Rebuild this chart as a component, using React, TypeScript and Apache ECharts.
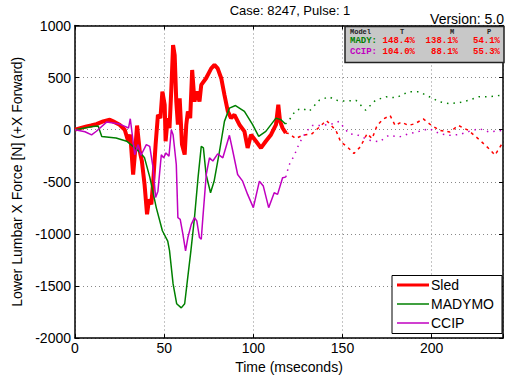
import React, { useEffect, useRef } from 'react';
import * as echarts from 'echarts';

// ---- Data ----
const sledTime = [0, 3, 6.5, 9, 12, 15.8, 19.5, 21.4, 25, 27.9, 29.8, 31, 32.6, 33.5, 34.8, 36.3, 37.5, 39, 40.4, 41.5, 42.8, 44, 45.2, 46.5, 47.9, 49, 50.3, 50.8, 52, 53, 54, 55, 55.9, 56.8, 57.7, 58.7, 60, 61.5, 62.4, 63.3, 64.6, 65.7, 67, 68.3, 69.8, 70.8, 73.5, 76.4, 78.2, 80, 82, 83.8, 85.7, 87.5, 89.4, 92.2, 95, 96.8, 98.7, 101.5, 104.3, 107, 109.9, 112.7, 114, 115, 116.4, 118.2];
const sledForce = [0, 15, 32, 40, 54, 80, 96, 80, 48, 0, -111, -48, -430, -250, 40, -207, -300, -525, -812, -669, -716, -462, -143, 143, 111, 366, 239, -111, 111, 16, 382, 812, 716, 270, 48, 302, -143, -239, 48, 175, 111, 573, 270, 366, 270, 430, 494, 589, 621, 589, 494, 334, 175, 111, 143, 48, -16, -175, -48, -111, -175, -111, -48, 48, 239, 80, 16, -32];
const sledTailTime = [118.2, 120, 123.8, 127.6, 133, 137, 141, 143.6, 146.3, 149, 152.7, 156.4, 160, 163.8, 166.6, 169.4, 173, 176.7, 179.5, 183, 187, 190.6, 195.3, 199.9, 204.6, 210.2, 215, 220.5, 226, 232, 235.5, 239.5];
const sledTailForce = [-32, -38, -85, -54, -38, 25, 89, 41, -6, -117, -165, -228, -165, -38, -85, 41, 104, 136, 41, 73, 41, 57, 104, 41, -6, -22, 41, -6, -85, -180, -244, -133];

const madyTime = [0, 10, 13, 15, 23, 29, 36, 39, 42, 45.6, 49, 52, 53, 55, 57, 59.6, 61.5, 63, 65, 67, 69, 70.8, 72, 73.5, 76, 78, 81, 83.8, 86.6, 90, 95, 99.6, 103, 107, 112.7, 115.5, 118];
const madyForce = [0, 30, 35, -65, -80, -110, -210, -270, -460, -750, -970, -1070, -1160, -1480, -1670, -1710, -1670, -1450, -1160, -845, -460, -160, -175, -430, -605, -495, -210, 80, 207, 232, 175, 48, -64, -16, 111, 95, 54];
const madyTailTime = [118, 120, 123.8, 127.6, 131.3, 137, 142.5, 146.2, 151.8, 157.5, 163, 168.5, 174.5, 180, 187, 193, 198.7, 204.5, 210, 215.5, 221, 226.5, 232, 239.5];
const madyTailForce = [54, 90, 187, 203, 177, 283, 316, 283, 274, 283, 187, 283, 316, 306, 364, 364, 316, 267, 250, 260, 283, 316, 316, 332];

const ccipTime = [0, 5.6, 9.3, 12, 17.7, 21.4, 25, 28, 30, 31, 32, 33.5, 35.4, 37, 40, 41.9, 43.8, 45.2, 46.5, 48.4, 49.7, 51, 52.7, 54, 55, 56.8, 57.7, 59, 60.5, 62, 63.3, 65.2, 67, 68.3, 69.8, 70.8, 71.7, 73.6, 75.4, 77.3, 80, 82.9, 86.6, 88.5, 91.2, 94, 96.8, 100, 103.4, 105.6, 108.6, 111.7, 113.6, 116.4, 118.2];
const ccipForce = [0, -20, -50, -15, 73, 64, 54, 32, 16, 105, -32, -240, -143, -245, -143, -160, -366, -650, -590, -240, -270, -223, -255, 0, -48, -334, -844, -860, -1003, -1162, -1035, -908, -844, -876, -1035, -1050, -844, -430, -270, -300, -232, -270, -54, -207, -430, -494, -621, -748, -494, -541, -748, -605, -621, -462, -455];
const ccipTailTime = [118.2, 120, 123, 125.7, 129.5, 133, 138.7, 144.3, 148, 153.6, 159, 165, 170.5, 176, 181.8, 187.4, 193, 198.7, 204.5, 210, 215.5, 221, 226.7, 232.2, 239.6];
const ccipTailForce = [-455, -340, -245, -133, -22, 41, 41, 57, 79, -38, -54, -101, -117, -54, -70, -38, -16, 10, -38, -54, -47, -16, 10, -22, -6];

const xTicks = [0, 50, 100, 150, 200];
const legendNames = ['Sled', 'MADYMO', 'CCIP'];
const tableHeader = ['Model', 'T', 'M', 'P'];
const madyScores = ['148.4%', '138.1%', '54.1%'];
const ccipScores = ['104.0%', '88.1%', '55.3%'];

const RED = '#ff0000';
const GREEN = '#008000';
const MAGENTA = '#c000c0';
const FONT = 'Liberation Sans, Arial, sans-serif';
const MONO = 'Liberation Mono, Courier New, monospace';

const zip = (t: number[], v: number[]) => t.map((x, i) => [x, v[i]]);

export default function App() {
  const ref = useRef<HTMLDivElement>(null);
  useEffect(() => {
    if (!ref.current) return;
    const chart = echarts.init(ref.current, undefined, { renderer: 'svg' });
    const axisLine = { show: true, onZero: false, lineStyle: { color: '#000', width: 1.5 } };
    const tick = { show: true, inside: true, length: 4, lineStyle: { color: '#000', width: 1 } };
    const scoreCols = [415, 458, 500];
    const tableTexts: any[] = [];
    const headerX = [350, 400, 450, 487];
    tableHeader.forEach((h, i) => {
      tableTexts.push({
        type: 'text', x: headerX[i], y: 31.5,
        style: { text: h, font: `bold 7px ${MONO}`, fill: '#222', verticalAlign: 'middle', align: 'left' },
      });
    });
    tableTexts.push({ type: 'text', x: 350, y: 41, style: { text: 'MADY:', font: `bold 9px ${MONO}`, fill: GREEN, verticalAlign: 'middle' } });
    tableTexts.push({ type: 'text', x: 350, y: 52, style: { text: 'CCIP:', font: `bold 9px ${MONO}`, fill: MAGENTA, verticalAlign: 'middle' } });
    madyScores.forEach((s, i) => tableTexts.push({ type: 'text', x: scoreCols[i], y: 41, style: { text: s, font: `bold 9px ${MONO}`, fill: RED, align: 'right', verticalAlign: 'middle' } }));
    ccipScores.forEach((s, i) => tableTexts.push({ type: 'text', x: scoreCols[i], y: 52, style: { text: s, font: `bold 9px ${MONO}`, fill: RED, align: 'right', verticalAlign: 'middle' } }));

    const legendColors = [RED, GREEN, MAGENTA];
    const legendWidths = [3, 1.5, 1.5];
    const legendItems: any[] = [
      { type: 'rect', shape: { x: 392, y: 275.5, width: 110, height: 58 }, style: { fill: '#fff', stroke: '#000', lineWidth: 1 }, z: 20 },
    ];
    legendNames.forEach((n, i) => {
      const y = 285 + i * 19;
      legendItems.push({ type: 'line', shape: { x1: 397, y1: y, x2: 429, y2: y }, style: { stroke: legendColors[i], lineWidth: legendWidths[i] }, z: 21 });
      legendItems.push({ type: 'text', x: 431, y, style: { text: n, font: `14px ${FONT}`, fill: '#000', verticalAlign: 'middle' }, z: 21 });
    });

    chart.setOption({
      animation: false,
      backgroundColor: '#fff',
      grid: { left: 75, right: 1, top: 25.5, bottom: 38.5, show: false },
      xAxis: [
        {
          type: 'value', position: 'bottom', min: 0, max: 240, interval: 50,
          axisLine, axisTick: tick,
          axisLabel: { fontSize: 14, color: '#000', fontFamily: FONT, margin: 3, formatter: (v: number) => (xTicks.includes(v) ? String(v) : '') },
          splitLine: { show: true, lineStyle: { color: '#888', type: [1, 3], width: 1 } },
          name: 'Time (mseconds)', nameLocation: 'middle', nameGap: 17,
          nameTextStyle: { fontSize: 14, color: '#000', fontFamily: FONT },
        },
        {
          type: 'value', position: 'top', min: 0, max: 240, interval: 50,
          axisLine, axisTick: tick, axisLabel: { show: false }, splitLine: { show: false },
        },
      ],
      yAxis: [
        {
          type: 'value', position: 'left', min: -2000, max: 1000, interval: 500,
          axisLine, axisTick: tick,
          axisLabel: { fontSize: 14, color: '#000', fontFamily: FONT, margin: 4, formatter: (v: number) => String(v) },
          splitLine: { show: true, lineStyle: { color: '#888', type: [1, 3], width: 1 } },
          name: 'Lower Lumbar X Force [N] (+X Forward)', nameLocation: 'middle', nameGap: 43,
          nameTextStyle: { fontSize: 14, color: '#000', fontFamily: FONT },
        },
        {
          type: 'value', position: 'right', min: -2000, max: 1000, interval: 500,
          axisLine, axisTick: tick, axisLabel: { show: false }, splitLine: { show: false },
        },
      ],
      series: [
        { name: 'Sled', type: 'line', symbol: 'none', data: zip(sledTime, sledForce), lineStyle: { color: RED, width: 4 }, z: 2 },
        { name: 'Sled tail', type: 'line', symbol: 'none', data: zip(sledTailTime, sledTailForce), lineStyle: { color: RED, width: 1.5, type: [3, 4] }, z: 2 },
        { name: 'MADYMO', type: 'line', symbol: 'none', data: zip(madyTime, madyForce), lineStyle: { color: GREEN, width: 1.5 }, z: 3 },
        { name: 'MADYMO tail', type: 'line', symbol: 'none', data: zip(madyTailTime, madyTailForce), lineStyle: { color: GREEN, width: 1.5, type: [1.5, 5] }, z: 3 },
        { name: 'CCIP', type: 'line', symbol: 'none', data: zip(ccipTime, ccipForce), lineStyle: { color: MAGENTA, width: 1.5 }, z: 4 },
        { name: 'CCIP tail', type: 'line', symbol: 'none', data: zip(ccipTailTime, ccipTailForce), lineStyle: { color: MAGENTA, width: 1.5, type: [1.5, 5] }, z: 4 },
      ],
      graphic: [
        { type: 'text', x: 290, y: 10, style: { text: 'Case: 8247, Pulse: 1', font: `13px ${FONT}`, fill: '#000', align: 'center', verticalAlign: 'middle' } },
        { type: 'rect', shape: { x: 345, y: 26.5, width: 159, height: 36 }, style: { fill: '#c8c8c8', stroke: '#222', lineWidth: 1.5 }, z: 10 },
        { type: 'text', x: 504, y: 19, style: { text: 'Version: 5.0', font: `14px ${FONT}`, fill: '#000', align: 'right', verticalAlign: 'middle' }, z: 11 },
        ...tableTexts.map((t) => ({ ...t, z: 11 })),
        ...legendItems,
      ],
    });
    return () => chart.dispose();
  }, []);
  return <div ref={ref} style={{ position: 'absolute', left: 0, top: 0, width: 506, height: 379 }} />;
}
